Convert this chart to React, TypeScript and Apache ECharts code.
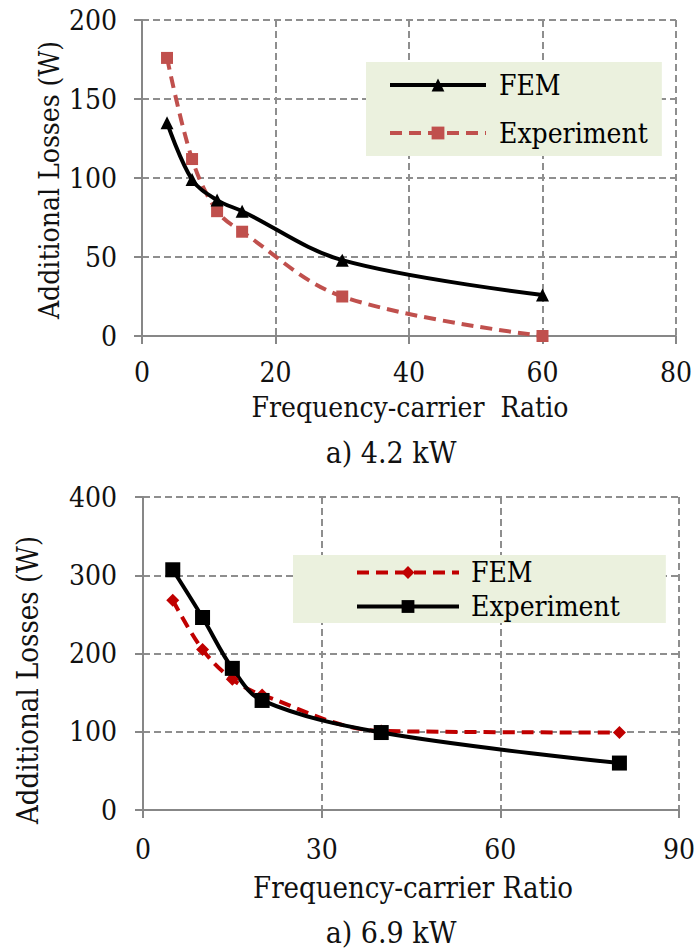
import React, { useEffect, useRef } from "react";
import * as echarts from "echarts";

// Chart a) 4.2 kW
const topRatio = [3.75, 7.5, 11.25, 15, 30, 60];
const topFEM = [135, 99, 86, 79, 48, 26];
const topExperiment = [176, 112, 79, 66, 25, 0];

// Chart a) 6.9 kW
const botRatio = [5, 10, 15, 20, 40, 80];
const botFEM = [268, 205, 167, 147, 101, 99];
const botExperiment = [307, 246, 181, 140, 99, 60];

const topXTicks = { min: 0, max: 80, interval: 20 };
const topYTicks = { min: 0, max: 200, interval: 50 };
const botXTicks = { min: 0, max: 90, interval: 30 };
const botYTicks = { min: 0, max: 400, interval: 100 };

const legendLabels: Record<string, string> = {
  FEM_a: "FEM",
  Exp_a: "Experiment",
  FEM_b: "FEM",
  Exp_b: "Experiment",
};

const FONT = "DejaVu Serif Condensed";
const AXIS = "#878787";
const GRIDC = "#8e8e8e";

function pairs(xs: number[], ys: number[]) {
  return xs.map((x, i) => [x, ys[i]]);
}

function axisCommon(margin: number) {
  return {
    type: "value" as const,
    axisLine: { show: true, onZero: false, lineStyle: { color: AXIS, width: 2 } },
    axisTick: { show: true, inside: false, length: 8, lineStyle: { color: AXIS, width: 2 } },
    splitLine: { show: true, lineStyle: { color: GRIDC, width: 2, type: [7, 4] } },
    axisLabel: { fontFamily: FONT, fontSize: 28, color: "#111", margin },
  };
}

function label(text: string, x: number, y: number, size: number, rotate = false) {
  return {
    type: "text",
    x,
    y,
    rotation: rotate ? Math.PI / 2 : 0,
    style: {
      text,
      fontFamily: FONT,
      fontSize: size,
      fill: "#111",
      textAlign: "center",
      textVerticalAlign: "middle",
    },
  };
}

export default function App() {
  const ref = useRef<HTMLDivElement>(null);
  useEffect(() => {
    if (!ref.current) return;
    const chart = echarts.init(ref.current, undefined, { renderer: "svg" });
    const option: any = {
      animation: false,
      backgroundColor: "#ffffff",
      textStyle: { fontFamily: FONT },
      grid: [
        { left: 142, top: 20, width: 534, height: 316 },
        { left: 143, top: 497, width: 538, height: 313 },
      ],
      xAxis: [
        { gridIndex: 0, ...axisCommon(22), ...topXTicks },
        { gridIndex: 1, ...axisCommon(25), ...botXTicks },
      ],
      yAxis: [
        { gridIndex: 0, ...axisCommon(25), ...topYTicks },
        { gridIndex: 1, ...axisCommon(26), ...botYTicks },
      ],
      legend: [
        {
          orient: "vertical",
          left: 366,
          top: 62,
          backgroundColor: "#EBF1DE",
          padding: [8, 14, 8, 22],
          itemGap: 18,
          itemWidth: 96,
          itemHeight: 16,
          data: ["FEM_a", "Exp_a"],
          formatter: (n: string) => legendLabels[n] || n,
          lineStyle: { width: 4 },
          textStyle: { fontFamily: FONT, fontSize: 28, color: "#000", lineHeight: 30, padding: [0, 0, 0, 8] },
        },
        {
          orient: "vertical",
          left: 293,
          top: 555,
          backgroundColor: "#EBF1DE",
          padding: [3, 46, 2, 62],
          itemGap: 5,
          itemWidth: 102,
          itemHeight: 16,
          data: ["FEM_b", "Exp_b"],
          formatter: (n: string) => legendLabels[n] || n,
          lineStyle: { width: 4 },
          textStyle: { fontFamily: FONT, fontSize: 28, color: "#000", lineHeight: 29, padding: [0, 0, 0, 7] },
        },
      ],
      series: [
        {
          name: "Exp_a",
          type: "line",
          xAxisIndex: 0,
          yAxisIndex: 0,
          data: pairs(topRatio, topExperiment),
          smooth: 0.35,
          symbol: "rect",
          symbolSize: 12,
          itemStyle: { color: "#C0504D" },
          lineStyle: { color: "#C0504D", width: 4, type: [12, 7] },
        },
        {
          name: "FEM_a",
          type: "line",
          xAxisIndex: 0,
          yAxisIndex: 0,
          data: pairs(topRatio, topFEM),
          smooth: 0.35,
          symbol: "triangle",
          symbolSize: 13,
          itemStyle: { color: "#000" },
          lineStyle: { color: "#000", width: 4 },
        },
        {
          name: "FEM_b",
          type: "line",
          xAxisIndex: 1,
          yAxisIndex: 1,
          data: pairs(botRatio, botFEM),
          smooth: 0.35,
          symbol: "diamond",
          symbolSize: 13,
          itemStyle: { color: "#C00000" },
          lineStyle: { color: "#C00000", width: 4, type: [12, 7] },
        },
        {
          name: "Exp_b",
          type: "line",
          xAxisIndex: 1,
          yAxisIndex: 1,
          data: pairs(botRatio, botExperiment),
          smooth: 0.35,
          symbol: "rect",
          symbolSize: 15,
          itemStyle: { color: "#000" },
          lineStyle: { color: "#000", width: 4 },
        },
      ],
      graphic: [
        label("Additional Losses (W)", 49, 180, 28, true),
        label("Frequency-carrier  Ratio", 410, 407, 28),
        label("a) 4.2 kW", 391, 452, 30),
        label("Additional Losses (W)", 28, 680, 29, true),
        label("Frequency-carrier Ratio", 413, 888, 29),
        label("a) 6.9 kW", 391, 932, 30),
      ],
    };
    chart.setOption(option);
    return () => chart.dispose();
  }, []);
  return (
    <div
      ref={ref}
      style={{ position: "absolute", left: 0, top: 0, width: 698, height: 949, background: "#fff" }}
    />
  );
}
